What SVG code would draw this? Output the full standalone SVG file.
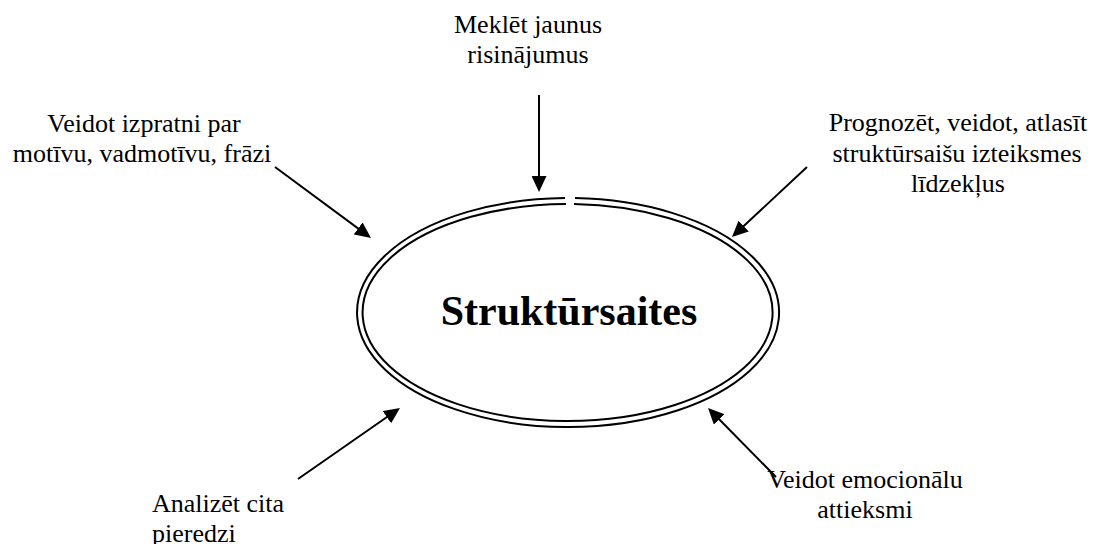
<svg xmlns="http://www.w3.org/2000/svg" width="1096" height="544" viewBox="0 0 1096 544">
  <style>
    .label { font-family: "Liberation Serif", "Times New Roman", serif; font-size: 26px; fill: #000; }
    .mid { text-anchor: middle; }
    .title { font-family: "Liberation Serif", "Times New Roman", serif; font-size: 42px; font-weight: bold; fill: #000; text-anchor: middle; }
    .ring { fill: none; stroke: #000; stroke-width: 2; }
    .arrow { fill: none; stroke: #000; stroke-width: 2; marker-end: url(#head); }
  </style>
  <defs>
    <marker id="head" viewBox="0 0 16 15" markerWidth="16" markerHeight="15" refX="12" refY="7.5" orient="auto" markerUnits="userSpaceOnUse">
      <path d="M0,0 L16,7.5 L0,15 Z" fill="#000"/>
    </marker>
  </defs>
  <rect width="1096" height="544" fill="#fff"/>

  <!-- central double-lined ellipse -->
  <g id="center">
    <path class="ring" d="M575,198.1 A211,114.5 0 1 1 565,198.05"/>
    <path class="ring" d="M574,204.1 A205,108.5 0 1 1 566,204.05"/>
    <text class="title" x="569" y="325">Struktūrsaites</text>
  </g>

  <g id="top">
    <text class="label mid" x="528" y="33">Meklēt jaunus</text>
    <text class="label mid" x="528" y="63">risinājumus</text>
  </g>

  <g id="top-left">
    <text class="label mid" x="144" y="132">Veidot izpratni par</text>
    <text class="label mid" x="142" y="162">motīvu, vadmotīvu, frāzi</text>
  </g>

  <g id="top-right">
    <text class="label mid" x="958" y="131">Prognozēt, veidot, atlasīt</text>
    <text class="label mid" x="957" y="162">struktūrsaišu izteiksmes</text>
    <text class="label mid" x="958" y="192">līdzekļus</text>
  </g>

  <g id="bottom-left">
    <text class="label" x="152" y="512">Analizēt cita</text>
    <text class="label" x="152" y="542">pieredzi</text>
  </g>

  <g id="bottom-right">
    <text class="label mid" x="865" y="488">Veidot emocionālu</text>
    <text class="label mid" x="865" y="518">attieksmi</text>
  </g>

  <!-- connectors pointing at the ellipse -->
  <g id="connectors">
    <line class="arrow" x1="539" y1="95" x2="539" y2="188"/>
    <line class="arrow" x1="275" y1="167" x2="367.8" y2="235.6"/>
    <line class="arrow" x1="807" y1="167" x2="734.9" y2="234.3"/>
    <line class="arrow" x1="298" y1="479" x2="396.7" y2="410.3"/>
    <line class="arrow" x1="776" y1="477" x2="710.8" y2="410.8"/>
  </g>
</svg>
